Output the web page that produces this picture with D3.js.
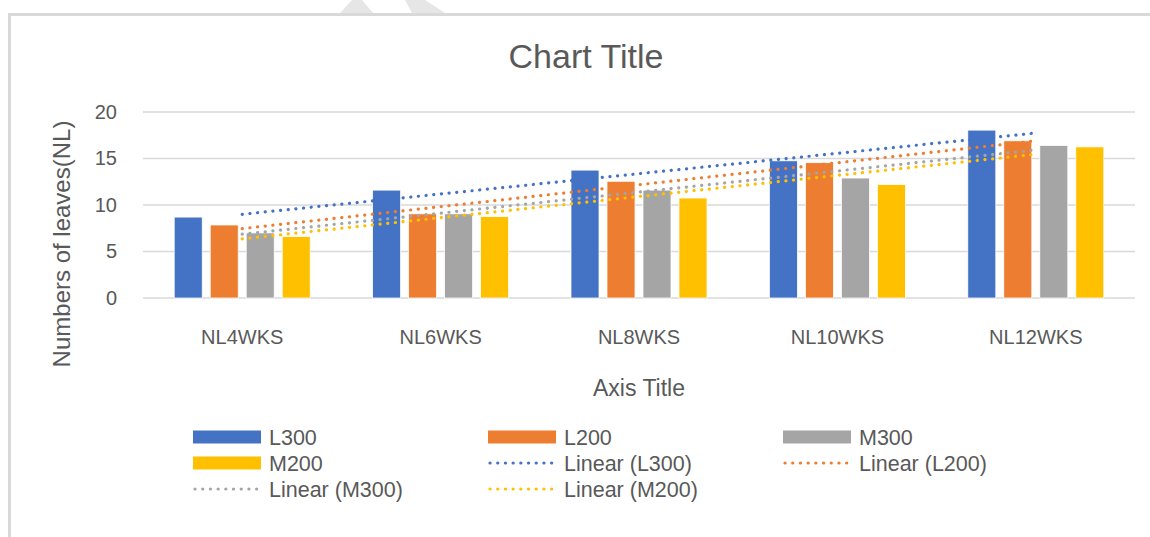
<!DOCTYPE html>
<html>
<head>
<meta charset="utf-8">
<script src="https://cdn.jsdelivr.net/npm/d3@7"></script>
<style>
  body { margin: 0; background: #fff; }
  text { font-family: "Liberation Sans", Arial, sans-serif; fill: #595959; }
</style>
</head>
<body>
<div id="chart-area"></div>
<script>
/* DATA */
const categories = ['NL4WKS', 'NL6WKS', 'NL8WKS', 'NL10WKS', 'NL12WKS'];
const seriesNames = ['L300', 'L200', 'M300', 'M200'];
const L300 = [8.7, 11.6, 13.75, 14.75, 18.05];
const L200 = [7.85, 9.05, 12.55, 14.55, 16.9];
const M300 = [7.0, 9.05, 11.6, 12.9, 16.4];
const M200 = [6.6, 8.75, 10.75, 12.2, 16.25];
const yTicks = [0, 5, 10, 15, 20];
const colors = ['#4472C4', '#ED7D31', '#A5A5A5', '#FFC000'];

const values = [L300, L200, M300, M200];

/* CONSTANTS */
const W = 1150, H = 537;
const plot = { left: 143, right: 1135, top: 112, bottom: 298 };

const svg = d3.select('#chart-area').append('svg')
  .attr('width', W).attr('height', H);

// faint watermark shapes above the frame
svg.append('polygon').attr('points', '340,13 373,13 362,0 352,0').attr('fill', '#e6e6e6');
svg.append('polygon').attr('points', '412,13 445,13 425,0 405,0').attr('fill', '#e6e6e6');

// frame
svg.append('rect')
  .attr('x', 9.5).attr('y', 14.5)
  .attr('width', W + 20).attr('height', H + 20)
  .attr('fill', 'none').attr('stroke', '#d9d9d9').attr('stroke-width', 3);

// scales
const x0 = d3.scaleBand().domain(categories).range([plot.left, plot.right]).padding(0);
const x1 = d3.scaleBand().domain(seriesNames).range([0, x0.bandwidth()])
  .paddingInner(0.222).paddingOuter(0.867);
const y = d3.scaleLinear().domain([0, 20]).range([plot.bottom, plot.top]);

// gridlines
svg.append('g').selectAll('line').data(yTicks).join('line')
  .attr('x1', plot.left).attr('x2', plot.right)
  .attr('y1', d => y(d)).attr('y2', d => y(d))
  .attr('stroke', '#d9d9d9').attr('stroke-width', 1.5);

// y axis labels
const yAxis = svg.append('g')
  .attr('transform', `translate(${plot.left - 26},0)`)
  .call(d3.axisLeft(y).tickValues(yTicks).tickSize(0).tickPadding(0));
yAxis.select('.domain').remove();
yAxis.selectAll('text')
  .attr('font-size', 20).attr('fill', '#595959')
  .attr('font-family', '"Liberation Sans", Arial, sans-serif');

// x axis labels
const xAxis = svg.append('g')
  .attr('transform', `translate(0,${plot.bottom})`)
  .call(d3.axisBottom(x0).tickSize(0).tickPadding(32));
xAxis.select('.domain').remove();
xAxis.selectAll('text')
  .attr('font-size', 20).attr('fill', '#595959')
  .attr('font-family', '"Liberation Sans", Arial, sans-serif');

// bars
seriesNames.forEach((s, i) => {
  svg.append('g').selectAll('rect').data(values[i]).join('rect')
    .attr('x', (d, j) => x0(categories[j]) + x1(s))
    .attr('y', d => y(d))
    .attr('width', x1.bandwidth())
    .attr('height', d => y(0) - y(d))
    .attr('fill', colors[i])
    .attr('stroke', '#fff').attr('stroke-width', 0.75);
});

// linear trendlines (least squares over category index)
function linearFit(vals) {
  const n = vals.length;
  const xs = vals.map((d, i) => i + 1);
  const mx = d3.mean(xs), my = d3.mean(vals);
  const slope = d3.sum(xs, (xv, i) => (xv - mx) * (vals[i] - my)) /
                d3.sum(xs, xv => (xv - mx) * (xv - mx));
  const icpt = my - slope * mx;
  return [[1, icpt + slope], [n, icpt + slope * n]];
}
const cx = i => x0(categories[i - 1]) + x0.bandwidth() / 2;
seriesNames.forEach((s, i) => {
  const pts = linearFit(values[i]);
  svg.append('line')
    .attr('x1', cx(pts[0][0])).attr('y1', y(pts[0][1]))
    .attr('x2', cx(pts[1][0])).attr('y2', y(pts[1][1]))
    .attr('stroke', colors[i]).attr('stroke-width', 3.2)
    .attr('stroke-linecap', 'round').attr('stroke-dasharray', '0.1 7.6');
});

// titles
svg.append('text').attr('x', 586).attr('y', 68)
  .attr('text-anchor', 'middle').attr('font-size', 34)
  .text('Chart Title');
svg.append('text').attr('x', 639).attr('y', 396)
  .attr('text-anchor', 'middle').attr('font-size', 23)
  .text('Axis Title');
svg.append('text')
  .attr('transform', 'translate(70,244) rotate(-90)')
  .attr('text-anchor', 'middle').attr('font-size', 24)
  .text('Numbers of leaves(NL)');

// legend
const legendItems = seriesNames.map((s, i) => ({ label: s, type: 'bar', color: colors[i] }))
  .concat(seriesNames.map((s, i) => ({ label: `Linear (${s})`, type: 'line', color: colors[i] })));
const colX = [193, 488, 783];
const rowY = [437, 463, 489];
const legend = svg.append('g');
legendItems.forEach((d, k) => {
  const gx = colX[k % 3], gy = rowY[Math.floor(k / 3)];
  const item = legend.append('g').attr('transform', `translate(${gx},${gy})`);
  if (d.type === 'bar') {
    item.append('rect').attr('x', 0).attr('y', -6.5)
      .attr('width', 68).attr('height', 13).attr('fill', d.color);
  } else {
    item.append('line').attr('x1', 2).attr('x2', 64).attr('y1', 0).attr('y2', 0)
      .attr('stroke', d.color).attr('stroke-width', 3.2)
      .attr('stroke-linecap', 'round').attr('stroke-dasharray', '0.1 7.6');
  }
  item.append('text').attr('x', 76).attr('y', 7.5)
    .attr('font-size', 21.5).text(d.label);
});
</script>
</body>
</html>
